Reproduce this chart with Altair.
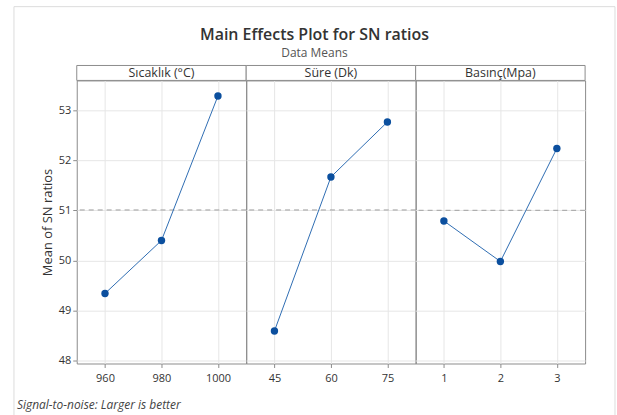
import altair as alt
import pandas as pd

# Main effects of each factor on the signal-to-noise ratio (larger is better)
factor_names = ["Sıcaklık (°C)", "Süre (Dk)", "Basınç(Mpa)"]

sicaklik_levels = ["960", "980", "1000"]
sicaklik_sn = [49.34, 50.40, 53.29]

sure_levels = ["45", "60", "75"]
sure_sn = [48.59, 51.67, 52.77]

basinc_levels = ["1", "2", "3"]
basinc_sn = [50.79, 49.98, 52.24]

y_ticks = [48, 49, 50, 51, 52, 53]
y_domain = [47.94, 53.6]

chart_title = "Main Effects Plot for SN ratios"
chart_subtitle = "Data Means"
y_title = "Mean of SN ratios"
footnote = "Signal-to-noise: Larger is better"

FONT = "Open Sans"
PANEL_W = 170
PANEL_H = 284
STRIP_H = 15
BORDER = "#8c8c8c"
LINE_COLOR = "#2f6db3"
POINT_COLOR = "#0b4f9e"


def panel(name, levels, values, first):
    df = pd.DataFrame({"level": levels, "sn": values})
    base = alt.Chart(df)

    x = alt.X(
        "level:N",
        sort=levels,
        scale=alt.Scale(type="point", padding=0.5),
        axis=alt.Axis(
            title=None, labelAngle=0, grid=True, gridColor="#e6e6e6",
            domain=False, ticks=True, tickSize=4, tickColor=BORDER,
            labelFont=FONT, labelFontSize=11, labelColor="#333333",
            labelPadding=5,
        ),
    )
    if first:
        y_axis = alt.Axis(
            title=y_title, values=y_ticks, grid=True, gridColor="#e6e6e6",
            domain=False, ticks=True, tickSize=4, tickColor=BORDER,
            labelFont=FONT, labelFontSize=11, labelColor="#333333",
            labelPadding=2, titleFont=FONT, titleFontSize=13,
            titleFontWeight="normal", titleColor="#333333", titlePadding=4,
        )
    else:
        y_axis = alt.Axis(
            title=None, values=y_ticks, grid=True, gridColor="#e6e6e6",
            domain=False, ticks=False, labels=False,
        )
    y_scale = alt.Scale(domain=y_domain, nice=False, zero=False)

    grand_mean = base.mark_rule(
        color="#a0a0a0", strokeDash=[5, 4], strokeWidth=1
    ).encode(y=alt.Y("mean(sn):Q", scale=y_scale, axis=y_axis))

    line = base.mark_line(color=LINE_COLOR, strokeWidth=1).encode(
        x=x, y=alt.Y("sn:Q", scale=y_scale, axis=y_axis)
    )
    points = base.mark_circle(color=POINT_COLOR, size=55, opacity=1).encode(
        x=x, y=alt.Y("sn:Q", scale=y_scale, axis=y_axis)
    )

    label_df = pd.DataFrame({"factor": [name]})
    strip = alt.Chart(label_df).mark_rect(
        fill="white", stroke=BORDER, strokeWidth=1
    ).encode(
        x=alt.value(0), x2=alt.value(PANEL_W),
        y=alt.value(-STRIP_H), y2=alt.value(0),
    )
    strip_text = alt.Chart(label_df).mark_text(
        font=FONT, fontSize=12.5, color="#333333", baseline="middle"
    ).encode(
        x=alt.value(PANEL_W / 2), y=alt.value(-STRIP_H / 2), text="factor:N"
    )

    layers = [grand_mean, line, points, strip, strip_text]

    if first:
        note_df = pd.DataFrame({"note": [footnote]})
        note = alt.Chart(note_df).mark_text(
            font=FONT, fontSize=12, fontStyle="italic", color="#444444",
            align="left", baseline="middle",
        ).encode(x=alt.value(-60), y=alt.value(PANEL_H + 42), text="note:N")
        frame = alt.Chart(note_df).mark_rect(
            fill="transparent", stroke="#dcdcdc", strokeWidth=1
        ).encode(
            x=alt.value(-63), x2=alt.value(540),
            y=alt.value(-74), y2=alt.value(PANEL_H + 60),
        )
        layers = [frame] + layers + [note]

    return alt.layer(*layers).properties(width=PANEL_W, height=PANEL_H)


chart = alt.hconcat(
    panel(factor_names[0], sicaklik_levels, sicaklik_sn, True),
    panel(factor_names[1], sure_levels, sure_sn, False),
    panel(factor_names[2], basinc_levels, basinc_sn, False),
    spacing=0,
    bounds="flush",
).properties(
    title=alt.TitleParams(
        text=chart_title,
        subtitle=chart_subtitle,
        anchor="middle",
        font=FONT,
        fontSize=16,
        fontWeight=600,
        color="#333333",
        subtitleFont=FONT,
        subtitleFontSize=12,
        subtitleColor="#555555",
        subtitlePadding=5,
        offset=-53,
    ),
    padding={"left": 13, "top": 5, "right": 1, "bottom": 0},
    background="white",
).configure_view(
    stroke=BORDER, strokeWidth=1
)

chart.save("out.html", embed_options={"renderer": "svg", "actions": False})
